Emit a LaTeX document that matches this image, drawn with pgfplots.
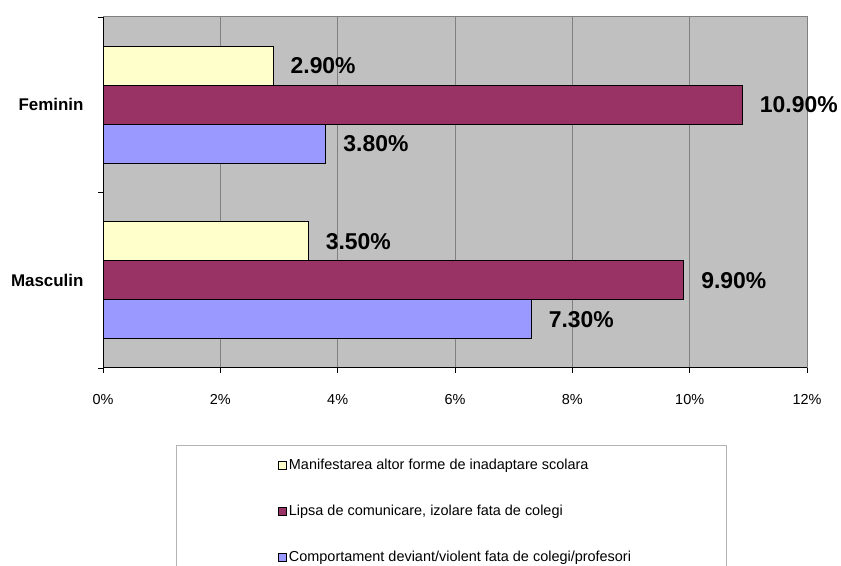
\documentclass[border=0pt]{standalone}
\usepackage{fontspec}
\setmainfont{Liberation Sans}
\usepackage{pgfplots}
\pgfplotsset{compat=1.18}
\definecolor{bgc}{HTML}{C0C0C0}
\definecolor{gridc}{HTML}{808080}
\definecolor{yel}{HTML}{FFFFCC}
\definecolor{mar}{HTML}{993366}
\definecolor{lav}{HTML}{9999FF}
\begin{document}
\begin{tikzpicture}[x=1bp,y=1bp]
\useasboundingbox (0,0) rectangle (841,566);
\clip (0,0) rectangle (841,566);
\draw[color=gridc!60, line width=0.75bp] (176,121) rectangle (726,-40);
\begin{axis}[
  at={(103bp,198bp)}, anchor=south west,
  scale only axis, width=704bp, height=351bp,
  /pgf/number format/assume math mode=true,
  xbar, bar width=0.2222,
  xmin=0, xmax=12, ymin=-0.5, ymax=1.5,
  xtick={0,2,...,12},
  xticklabels={0\%,2\%,4\%,6\%,8\%,10\%,12\%},
  ytick={0,1}, yticklabels={Masculin,Feminin},
  ytick style={draw=none},
  extra y ticks={-0.5,0.5,1.5}, extra y tick labels={},
  extra y tick style={ytick style={draw=black, line width=0.75bp}},
  xtick style={draw=black, line width=0.75bp},
  tick align=outside, major tick length=5bp,
  axis x line*=bottom, axis y line*=left,
  axis line style={-, black, line width=1bp},
  axis background/.style={fill=bgc, draw=gridc, line width=1bp},
  xmajorgrids=true, ymajorgrids=false,
  major grid style={gridc, line width=0.9bp},
  xticklabel style={font=\fontsize{14.5}{17}\selectfont, yshift=-18bp},
  yticklabel style={font=\fontsize{17}{20}\selectfont\bfseries, xshift=-11bp},
  point meta=x,
  nodes near coords={\pgfmathprintnumber[fixed,fixed zerofill,precision=2]{\pgfplotspointmeta}\%},
  nodes near coords style={anchor=west, inner sep=0pt, xshift=17bp, font=\fontsize{23}{27}\selectfont\bfseries, text=black},
  legend style={at={(axis description cs:0.2486,-0.2535)}, anchor=north west,
    draw=none, fill=none, font=\fontsize{14.5}{17}\selectfont,
    row sep=30bp, inner sep=0pt},
  legend cell align=left,
  legend image code/.code={\draw[#1, draw=black, line width=0.75bp] (0bp,-4bp) rectangle (8bp,4bp);},
]
\addplot[fill=yel, draw=black, line width=1bp, bar shift=0.2222] coordinates {(3.5,0) (2.9,1)};
\addplot[fill=mar, draw=black, line width=1bp, bar shift=0] coordinates {(9.9,0) (10.9,1)};
\addplot[fill=lav, draw=black, line width=1bp, bar shift=-0.2222] coordinates {(7.3,0) (3.8,1)};
\legend{Manifestarea altor forme de inadaptare scolara,
        {Lipsa de comunicare, izolare fata de colegi},
        Comportament deviant/violent fata de colegi/profesori}
\end{axis}
\end{tikzpicture}
\end{document}
